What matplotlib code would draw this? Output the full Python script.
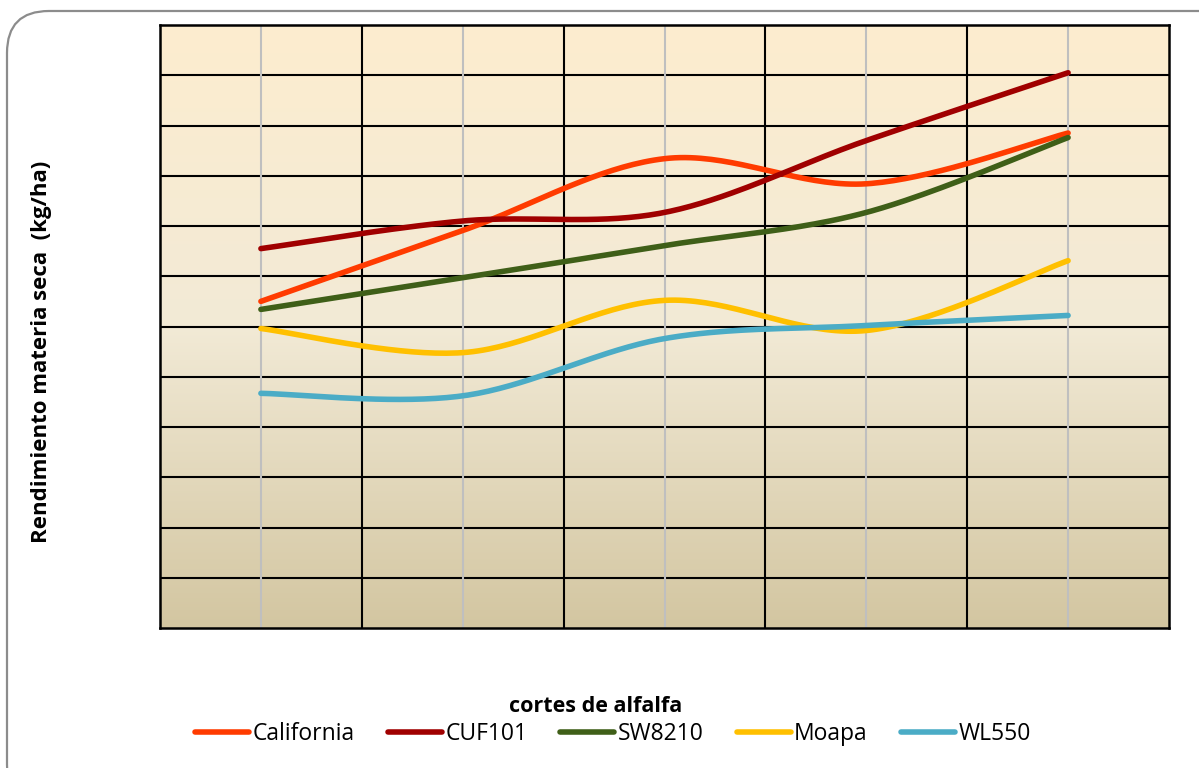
import matplotlib
matplotlib.use("Agg")
import matplotlib.pyplot as plt
import matplotlib.patches as mpatches
from matplotlib.colors import LinearSegmentedColormap
import numpy as np

# ---------------------------------------------------------------------------
# Data (in grid units; no tick labels are shown)
# ---------------------------------------------------------------------------
cuts = [1, 2, 3, 4, 5]
california = [6.50, 7.91, 9.34, 8.84, 9.85]
cuf101 = [7.55, 8.10, 8.27, 9.70, 11.05]
sw8210 = [6.34, 6.97, 7.61, 8.27, 9.76]
moapa = [5.96, 5.48, 6.52, 5.92, 7.31]
wl550 = [4.67, 4.62, 5.76, 6.02, 6.22]

SERIES = [
    ("California", california, "#FF3B00"),
    ("CUF101", cuf101, "#A00000"),
    ("SW8210", sw8210, "#3F5F18"),
    ("Moapa", moapa, "#FFC000"),
    ("WL550", wl550, "#4BACC6"),
]
Y_MAX = 12


def smooth_curve(xs, ys, n=40):
    # Catmull-Rom style bezier, like a spreadsheet "smoothed line"
    xs = np.asarray(xs, float)
    ys = np.asarray(ys, float)
    px = np.concatenate([[xs[0]], xs, [xs[-1]]])
    py = np.concatenate([[ys[0]], ys, [ys[-1]]])
    out_x, out_y = [], []
    t = np.linspace(0, 1, n)
    for i in range(1, len(px) - 2):
        p0 = np.array([px[i], py[i]])
        p3 = np.array([px[i + 1], py[i + 1]])
        c1 = p0 + (np.array([px[i + 1], py[i + 1]]) - np.array([px[i - 1], py[i - 1]])) / 6
        c2 = p3 - (np.array([px[i + 2], py[i + 2]]) - np.array([px[i], py[i]])) / 6
        b = ((1 - t) ** 3)[:, None] * p0 + (3 * (1 - t) ** 2 * t)[:, None] * c1 \
            + (3 * (1 - t) * t ** 2)[:, None] * c2 + (t ** 3)[:, None] * p3
        out_x.extend(b[:, 0])
        out_y.extend(b[:, 1])
    return out_x, out_y


fig = plt.figure(figsize=(11.99, 7.68), dpi=100)

# rounded outer frame
frame = mpatches.FancyBboxPatch((7 / 1199, -0.05), 1.2, 1.05 - 11 / 768,
                                boxstyle="round,pad=0,rounding_size=0.035",
                                transform=fig.transFigure, facecolor="white",
                                edgecolor="#8C8C8C", linewidth=1.6, zorder=0,
                                mutation_aspect=1199 / 768)
fig.patches.append(frame)

ax = fig.add_axes([160 / 1199, 1 - 628 / 768, (1169 - 160) / 1199, (628 - 25) / 768])
ax.set_zorder(2)
ax.set_xlim(0.5, 5.5)
ax.set_ylim(0, Y_MAX)

# gradient background
cmap = LinearSegmentedColormap.from_list("bg", ["#D3C6A1", "#F2EAD6", "#FDEDCF"])
grad = np.linspace(0, 1, 256).reshape(-1, 1)
ax.imshow(grad, aspect="auto", cmap=cmap, origin="lower",
          extent=(0.5, 5.5, 0, Y_MAX), zorder=0)

# grid
for y in range(1, Y_MAX):
    ax.axhline(y, color="black", linewidth=1.5, zorder=1)
for x in cuts:
    ax.axvline(x, color="#BFBFBF", linewidth=1.5, zorder=1)
for x in np.arange(1.5, 5.5, 1):
    ax.axvline(x, color="black", linewidth=1.5, zorder=1)

for name, vals, color in SERIES:
    sx, sy = smooth_curve(cuts, vals)
    ax.plot(sx, sy, color=color, linewidth=4.0, solid_capstyle="round",
            label=name, zorder=3)

ax.set_xticks([])
ax.set_yticks([])
for s in ax.spines.values():
    s.set_linewidth(1.8)
    s.set_color("black")

fig.text(42 / 1199, 1 - 352 / 768, "Rendimiento materia seca  (kg/ha)",
         rotation=90, ha="center", va="center", fontsize=16,
         fontweight="bold", family="Open Sans", zorder=3)
fig.text(596 / 1199, 1 - 706 / 768, "cortes de alfalfa", ha="center",
         va="center", fontsize=15.5, fontweight="bold", family="Open Sans",
         zorder=3)

leg = fig.legend(loc="center", bbox_to_anchor=(613 / 1199, 1 - 734 / 768), ncol=5,
                 frameon=False, handlelength=2.35, handletextpad=0.15,
                 columnspacing=1.45, prop={"family": "Open Sans", "size": 16.5})
leg.set_zorder(3)

fig.savefig("out.png", dpi=100)
